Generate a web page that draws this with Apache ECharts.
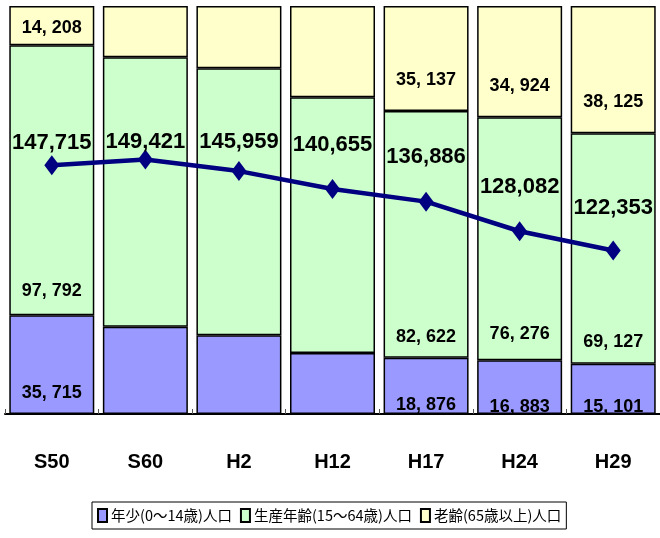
<!DOCTYPE html>
<html>
<head>
<meta charset="utf-8">
<script src="https://cdn.jsdelivr.net/npm/echarts@6/dist/echarts.min.js"></script>
<style>
html,body{margin:0;padding:0;background:#fff;}
#c{width:660px;height:538px;}
</style>
</head>
<body>
<div id="c"></div>
<script>
// ---- data ----
var categories = ['S50', 'S60', 'H2', 'H12', 'H17', 'H24', 'H29'];
var seriesNames = ['年少(0～14歳)人口', '生産年齢(15～64歳)人口', '老齢(65歳以上)人口'];
var young   = [35715, 31975, 28155, 21030, 18876, 16883, 15101];
var working = [97792, 98661, 95516, 88151, 82622, 76276, 69127];
var elderly = [14208, 18785, 22288, 31474, 35137, 34924, 38125];
var totals  = [147715, 149421, 145959, 140655, 136886, 128082, 122353];
var labeledIdx = [0, 4, 5, 6];

// ---- label placement (styles) ----
var youngDist   = [21, 0, 0, 0, 9, 7, 7];
var workingDist = [24, 0, 0, 0, 21, 26, 22];
var elderlyDist = [17, 0, 0, 0, 31, 31, 31];
var totalOffset = [22, 17, 29, 44, 45, 44, 43];

var FONT = '"Liberation Sans", Arial, sans-serif';

function fmtSeg(v) {
  var s = String(v);
  return s.slice(0, s.length - 3) + ', ' + s.slice(s.length - 3);
}
function fmtTot(v) {
  var s = String(v);
  return s.slice(0, s.length - 3) + ',' + s.slice(s.length - 3);
}

var sums = categories.map(function (c, i) { return young[i] + working[i] + elderly[i]; });

function barData(arr, dists) {
  return arr.map(function (v, i) {
    var show = labeledIdx.indexOf(i) >= 0;
    return {
      value: v / sums[i] * 100,
      label: {
        show: show,
        position: 'insideBottom',
        distance: dists[i],
        verticalAlign: 'middle',
        formatter: fmtSeg(v)
      }
    };
  });
}

var segLabel = {
  color: '#000',
  fontFamily: FONT,
  fontWeight: 'bold',
  fontSize: 18
};

var colors = ['#9999FF', '#CCFFCC', '#FFFFCC'];
var arrays = [young, working, elderly];
var dists = [youngDist, workingDist, elderlyDist];

var series = arrays.map(function (arr, k) {
  return {
    name: seriesNames[k],
    type: 'bar',
    stack: 'pop',
    yAxisIndex: 0,
    barWidth: 85,
    itemStyle: { color: colors[k], borderColor: '#000', borderWidth: 1.5 },
    label: segLabel,
    emphasis: { disabled: true },
    data: barData(arr, dists[k]),
    z: 2
  };
});

series.push({
  name: 'total',
  type: 'line',
  yAxisIndex: 1,
  symbol: 'diamond',
  symbolSize: [15, 20],
  lineStyle: { color: '#000080', width: 4.5 },
  itemStyle: { color: '#000080' },
  emphasis: { disabled: true },
  data: totals.map(function (v, i) {
    return {
      value: v,
      label: {
        show: true,
        position: 'inside',
        offset: [0, -totalOffset[i]],
        formatter: fmtTot(v),
        color: '#000',
        fontFamily: FONT,
        fontWeight: 'bold',
        fontSize: 22
      }
    };
  }),
  z: 5
});

var chart = echarts.init(document.getElementById('c'), null, { renderer: 'canvas' });
chart.setOption({
  animation: false,
  backgroundColor: '#fff',
  grid: { left: 5, top: 6, width: 659, height: 408, containLabel: false },
  legend: {
    data: seriesNames,
    left: 92,
    top: 502,
    orient: 'horizontal',
    borderColor: '#000',
    borderWidth: 1,
    padding: [6, 5, 6, 5],
    itemWidth: 9,
    itemHeight: 13,
    itemGap: 8,
    icon: 'rect',
    textStyle: { fontSize: 14.5, color: '#000', fontFamily: '"Noto Sans CJK JP", sans-serif', padding: [0, 0, 0, -1] }
  },
  xAxis: {
    type: 'category',
    data: categories,
    axisLine: { show: true, lineStyle: { color: '#000', width: 2 } },
    axisTick: { show: true, inside: true, length: 5, lineStyle: { color: '#555', width: 1 } },
    axisLabel: {
      color: '#000',
      fontFamily: FONT,
      fontWeight: 'bold',
      fontSize: 20,
      margin: 38,
      verticalAlign: 'top'
    },
    splitLine: { show: false }
  },
  yAxis: [
    { type: 'value', min: 0, max: 100, show: false, splitLine: { show: false } },
    { type: 'value', min: 73800, max: 195000, show: false, splitLine: { show: false } }
  ],
  series: series
});
</script>
</body>
</html>
